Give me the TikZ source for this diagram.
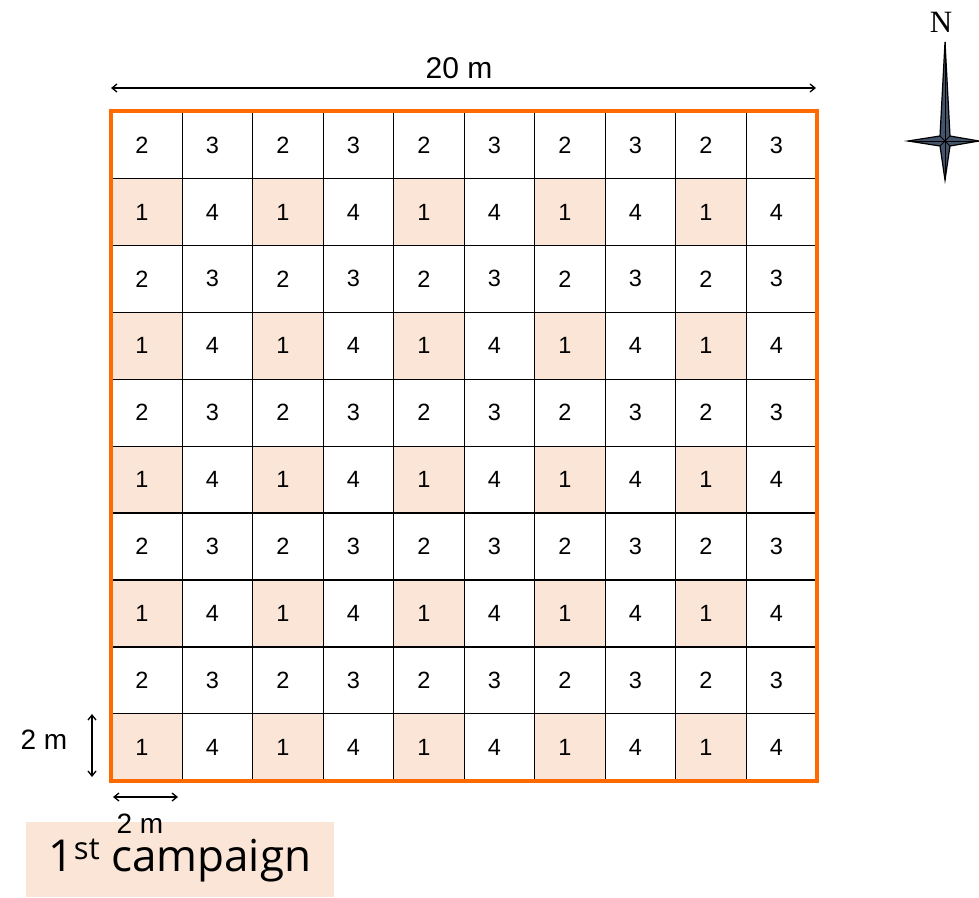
\documentclass[tikz,border=0pt]{standalone}
\usepackage{fontspec}
\setmainfont{Liberation Sans}
\newfontfamily\labfont{Open Sans}
\newfontfamily\nfont{Liberation Serif}
\usetikzlibrary{arrows.meta}
\definecolor{plotorange}{HTML}{FF6A00}
\definecolor{cellfill}{HTML}{FBE5D6}
\definecolor{needle}{HTML}{44546A}
\begin{document}
\begin{tikzpicture}[x=1pt,y=-1pt,
  cellbox/.style={draw=black,line width=1.3pt,minimum width=70.5pt,minimum height=66.9pt,inner sep=0pt,anchor=north west,font=\fontsize{23.5}{26}\selectfont},
  shaded/.style={cellbox,fill=cellfill},
  dim/.style={line width=1.3pt,{Straight Barb[length=5pt,width=8pt]}-{Straight Barb[length=5pt,width=8pt]}},
  dimlabel/.style={font=\fontsize{30}{34}\selectfont,inner sep=0pt},
  smalllabel/.style={font=\fontsize{28}{32}\selectfont,inner sep=0pt}]
\useasboundingbox (0,0) rectangle (979,897);
% grid
\foreach \r in {0,...,9}{
  \foreach \c in {0,...,9}{
    \pgfmathtruncatemacro{\odd}{mod(\r,2)}
    \pgfmathtruncatemacro{\even}{mod(\c,2)}
    \ifnum\odd=0
      \ifnum\even=0 \def\val{2}\else\def\val{3}\fi
      \node[cellbox] (cell-\r-\c) at ({111+70.5*\c},{111+66.9*\r}) {\hspace*{-10pt}\val};
    \else
      \ifnum\even=0
        \node[shaded] (cell-\r-\c) at ({111+70.5*\c},{111+66.9*\r}) {\hspace*{-10pt}1};
      \else
        \node[cellbox] (cell-\r-\c) at ({111+70.5*\c},{111+66.9*\r}) {\hspace*{-10pt}4};
      \fi
    \fi
  }
}
\draw[plotorange,line width=4pt] (cell-0-0.north west) rectangle (cell-9-9.south east);
% dimensions
\coordinate (topL) at (111,88);
\coordinate (topR) at (816,88);
\draw[dim] (topL) -- (topR);
\node[dimlabel] (lab20) at (459,68) {20 m};
\coordinate (vT) at (92,714);
\coordinate (vB) at (92,777);
\draw[dim] (vT) -- (vB);
\node[smalllabel] (lab2v) at (44,740) {2 m};
\coordinate (hL) at (113,797);
\coordinate (hR) at (178,797);
\draw[dim] (hL) -- (hR);
% campaign box
\node[fill=cellfill,minimum width=308pt,minimum height=75pt,inner sep=0pt,anchor=north west] (camp) at (26,822) {};
\node[font=\labfont\fontsize{44}{50}\selectfont,inner sep=0pt] (camptext) at (180,861) {1\raisebox{12pt}{\fontsize{31}{34}\selectfont st} campaign};
\node[smalllabel] (lab2h) at (140,824) {2 m};
% compass
\node[font=\nfont\fontsize{31}{34}\selectfont,inner sep=0pt] (north) at (941,22) {N};
\draw[fill=needle,line width=1.2pt,line join=miter]
  (945,42) -- (950,136) -- (979,141) -- (950,146) -- (945,180) -- (940,146) -- (908,141) -- (940,136) -- cycle;
\draw[line width=1pt] (940,136) -- (950,146) (950,136) -- (940,146);
\draw[line width=1pt] (945,42) -- (945,180) (908,141) -- (979,141);
\end{tikzpicture}
\end{document}
